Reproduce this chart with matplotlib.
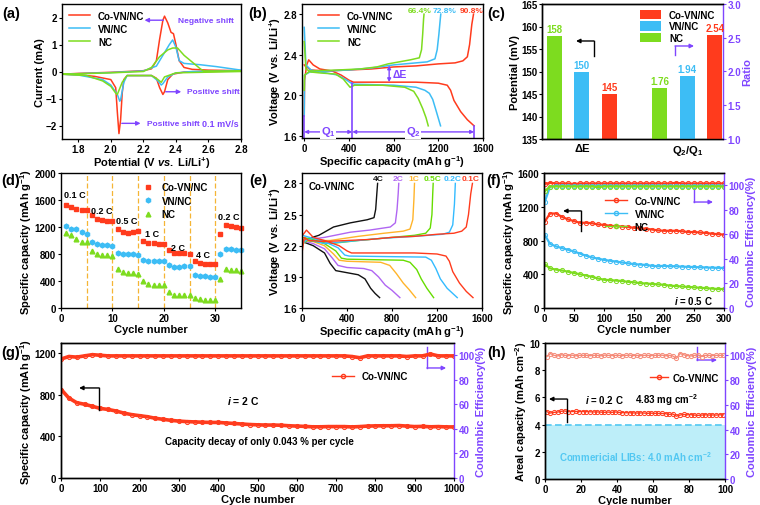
import matplotlib
matplotlib.use("Agg")
import matplotlib.pyplot as plt
from matplotlib.lines import Line2D

# ---------------- data ----------------
names = ["Co-VN/NC", "VN/NC", "NC"]

# (a) CV curves, anodic and cathodic branches
a_red_up_x = [1.7, 1.8, 2.0, 2.1, 2.2, 2.25, 2.28, 2.30, 2.32, 2.33, 2.35, 2.37, 2.385, 2.40, 2.42, 2.45, 2.5, 2.6, 2.8]
a_red_up_y = [-0.1, -0.07, -0.03, 0.0, 0.03, 0.1, 0.4, 1.2, 1.9, 2.05, 1.8, 1.45, 1.4, 1.0, 0.4, 0.15, 0.08, 0.05, 0.03]
a_red_dn_x = [2.8, 2.6, 2.45, 2.38, 2.35, 2.33, 2.32, 2.30, 2.28, 2.25, 2.2, 2.1, 2.08, 2.07, 2.06, 2.05, 2.04, 2.03, 2.0, 1.9, 1.8, 1.7]
a_red_dn_y = [0.02, 0.0, -0.02, -0.1, -0.3, -0.75, -0.85, -0.6, -0.25, -0.15, -0.15, -0.15, -0.3, -0.8, -1.8, -2.3, -1.5, -0.6, -0.3, -0.18, -0.12, -0.1]
a_blue_up_x = [1.7, 2.0, 2.2, 2.28, 2.32, 2.36, 2.38, 2.40, 2.42, 2.45, 2.55, 2.65, 2.8]
a_blue_up_y = [-0.1, -0.04, 0.02, 0.2, 0.6, 1.0, 1.17, 0.9, 0.4, 0.3, 0.25, 0.18, 0.05]
a_blue_dn_x = [2.8, 2.5, 2.4, 2.35, 2.32, 2.31, 2.29, 2.25, 2.1, 2.08, 2.06, 2.055, 2.04, 2.0, 1.95, 1.8, 1.7]
a_blue_dn_y = [0.03, 0.0, -0.05, -0.2, -0.45, -0.5, -0.35, -0.15, -0.15, -0.4, -1.05, -1.1, -0.85, -0.5, -0.3, -0.13, -0.1]
a_green_up_x = [1.7, 2.0, 2.2, 2.25, 2.3, 2.35, 2.38, 2.41, 2.45, 2.5, 2.55, 2.57, 2.8]
a_green_up_y = [-0.1, -0.05, 0.0, 0.15, 0.55, 0.8, 0.87, 0.87, 0.6, 0.35, 0.1, 0.02, 0.02]
a_green_dn_x = [2.8, 2.4, 2.33, 2.31, 2.29, 2.25, 2.1, 2.07, 2.04, 2.03, 2.0, 1.95, 1.85, 1.7]
a_green_dn_y = [0.0, -0.05, -0.2, -0.4, -0.3, -0.15, -0.15, -0.4, -0.85, -0.8, -0.55, -0.35, -0.15, -0.1]

# (b) discharge / charge profiles at 0.1 C
b_red_dis_x = [0, 15, 40, 80, 140, 250, 330, 400, 440, 600, 800, 1000, 1200, 1280, 1310, 1340, 1400, 1460, 1520]
b_red_dis_y = [2.30, 2.28, 2.35, 2.30, 2.26, 2.24, 2.20, 2.15, 2.13, 2.13, 2.13, 2.13, 2.12, 2.10, 2.05, 1.95, 1.84, 1.76, 1.70]
b_red_chg_x = [0, 3, 20, 60, 200, 400, 600, 800, 1000, 1200, 1350, 1420, 1460, 1480, 1500, 1515]
b_red_chg_y = [1.80, 2.15, 2.28, 2.25, 2.24, 2.25, 2.26, 2.28, 2.29, 2.31, 2.32, 2.34, 2.38, 2.50, 2.70, 2.80]
b_blue_dis_x = [0, 15, 60, 150, 300, 380, 420, 450, 800, 1000, 1080, 1120, 1150, 1180, 1220]
b_blue_dis_y = [2.67, 2.30, 2.25, 2.23, 2.20, 2.15, 2.12, 2.11, 2.10, 2.08, 2.05, 2.02, 1.96, 1.85, 1.70]
b_blue_chg_x = [0, 3, 50, 200, 400, 600, 800, 1000, 1100, 1170, 1190, 1205, 1215, 1222]
b_blue_chg_y = [1.80, 2.20, 2.23, 2.24, 2.25, 2.27, 2.30, 2.32, 2.33, 2.36, 2.45, 2.60, 2.72, 2.80]
b_green_dis_x = [0, 15, 60, 150, 280, 350, 410, 450, 700, 900, 980, 1020, 1060, 1090, 1110]
b_green_dis_y = [2.53, 2.26, 2.23, 2.22, 2.21, 2.16, 2.08, 2.10, 2.10, 2.08, 2.04, 1.97, 1.87, 1.78, 1.70]
b_green_chg_x = [0, 3, 50, 300, 500, 650, 750, 850, 950, 1030, 1050, 1060, 1068, 1072]
b_green_chg_y = [2.05, 2.20, 2.24, 2.25, 2.26, 2.28, 2.31, 2.33, 2.35, 2.37, 2.45, 2.60, 2.75, 2.80]
b_ratio_text = ["90.8%", "72.8%", "66.4%"]
b_ratio_x = [1495, 1255, 1030]
q1_end, q2_end = 430, 1520

# (c) voltage gap and capacity ratio
c_dE = [145, 150, 158]          # Co-VN/NC, VN/NC, NC
c_ratio = [2.54, 1.94, 1.76]

# (d) rate capability, cycles 1..35
d_cycle = list(range(1, 36))
d_red = [1520, 1490, 1460, 1450, 1445, 1375, 1320, 1300, 1290, 1285, 1170, 1120, 1110, 1130, 1140,
         1000, 965, 960, 955, 950, 865, 820, 815, 810, 805, 690, 660, 650, 650, 650, 1100, 1230, 1210, 1200, 1180]
d_blue = [1215, 1175, 1165, 1130, 1100, 985, 955, 940, 930, 925, 820, 795, 795, 795, 790,
          715, 700, 695, 695, 690, 630, 610, 612, 615, 620, 495, 480, 470, 465, 455, 800, 875, 870, 865, 855]
d_green = [1110, 1080, 1020, 985, 975, 845, 805, 790, 780, 770, 575, 530, 520, 515, 510,
           395, 355, 345, 340, 335, 235, 200, 195, 195, 195, 150, 130, 125, 125, 120, 435, 585, 570, 560, 545]
d_rates = ["0.1 C", "0.2 C", "0.5 C", "1 C", "2 C", "4 C", "0.2 C"]
d_rate_x = [2.6, 8.0, 12.8, 17.7, 22.8, 27.6, 32.7]
d_rate_y = [1680, 1440, 1290, 1100, 890, 800, 1360]

# (e) Co-VN/NC profiles at different rates
e_rates = ["4C", "2C", "1C", "0.5C", "0.2C", "0.1C"]
e_dis_x = [[0, 3, 100, 200, 250, 300, 400, 500, 560, 610, 650, 690],
           [0, 3, 100, 200, 270, 320, 400, 550, 620, 680, 740, 800, 870],
           [0, 3, 100, 200, 280, 330, 400, 700, 780, 840, 900, 950, 1010],
           [0, 3, 100, 200, 300, 350, 400, 900, 960, 1020, 1060, 1110, 1170],
           [0, 3, 100, 200, 320, 380, 420, 1100, 1150, 1190, 1230, 1290, 1380],
           [0, 5, 40, 100, 200, 330, 400, 440, 1000, 1200, 1280, 1310, 1340, 1400, 1460, 1520]]
e_dis_y = [[2.80, 2.24, 2.20, 2.13, 2.03, 1.96, 1.94, 1.92, 1.88, 1.79, 1.74, 1.70],
           [2.70, 2.25, 2.22, 2.17, 2.08, 2.01, 1.99, 1.98, 1.96, 1.90, 1.82, 1.77, 1.70],
           [2.60, 2.26, 2.24, 2.20, 2.12, 2.06, 2.05, 2.04, 2.01, 1.93, 1.84, 1.78, 1.70],
           [2.55, 2.28, 2.26, 2.22, 2.15, 2.08, 2.07, 2.06, 2.04, 1.97, 1.88, 1.79, 1.70],
           [2.50, 2.30, 2.27, 2.24, 2.18, 2.11, 2.10, 2.09, 2.06, 1.98, 1.88, 1.79, 1.70],
           [2.30, 2.30, 2.35, 2.28, 2.25, 2.20, 2.15, 2.13, 2.13, 2.12, 2.10, 2.05, 1.95, 1.84, 1.76, 1.70]]
e_chg_x = [[0, 3, 30, 150, 280, 430, 580, 640, 655, 665, 672],
           [0, 3, 50, 200, 430, 600, 785, 830, 845, 855, 860],
           [0, 3, 50, 250, 500, 730, 900, 960, 985, 995, 1000],
           [0, 3, 50, 250, 500, 800, 1000, 1100, 1140, 1155, 1162, 1166],
           [0, 3, 50, 200, 400, 700, 1000, 1250, 1310, 1340, 1355, 1363],
           [0, 3, 20, 60, 200, 400, 600, 800, 1000, 1200, 1350, 1420, 1460, 1480, 1500, 1515]]
e_chg_y = [[1.80, 2.22, 2.26, 2.30, 2.38, 2.42, 2.45, 2.47, 2.55, 2.70, 2.80],
           [1.80, 2.23, 2.26, 2.28, 2.33, 2.35, 2.38, 2.42, 2.55, 2.70, 2.80],
           [1.80, 2.22, 2.25, 2.25, 2.29, 2.32, 2.34, 2.36, 2.45, 2.65, 2.80],
           [1.80, 2.22, 2.25, 2.22, 2.25, 2.28, 2.30, 2.32, 2.37, 2.50, 2.70, 2.80],
           [1.80, 2.22, 2.26, 2.22, 2.24, 2.27, 2.29, 2.31, 2.33, 2.40, 2.60, 2.80],
           [1.80, 2.15, 2.28, 2.25, 2.24, 2.25, 2.26, 2.28, 2.29, 2.31, 2.32, 2.34, 2.38, 2.50, 2.70, 2.80]]
e_label_x = [679, 857, 995, 1162, 1337, 1502]

# (f) cycling at 0.5 C
f_cycle = [1, 10, 20, 30, 40, 50, 60, 70, 80, 90, 100, 110, 120, 130, 140, 150, 160, 170, 180, 190,
           200, 210, 220, 230, 240, 250, 260, 270, 280, 290, 300]
f_red = [1020, 1120, 1120, 1080, 1050, 1030, 1010, 1010, 1005, 990, 985, 975, 970, 965, 960, 950,
         945, 940, 930, 920, 915, 915, 915, 910, 900, 900, 895, 890, 880, 875, 870]
f_blue = [870, 760, 730, 710, 690, 670, 645, 620, 600, 585, 570, 560, 550, 540, 530, 520,
          515, 510, 500, 495, 500, 495, 495, 490, 488, 485, 483, 480, 478, 476, 475]
f_green = [520, 470, 455, 445, 430, 415, 400, 385, 370, 350, 335, 330, 325, 320, 310, 305,
           295, 290, 285, 280, 275, 265, 260, 255, 250, 245, 240, 235, 230, 225, 225]
f_ce_red = [101, 102, 101.5, 101.5, 101.5, 101, 101.5, 101.5, 101.5, 101.5, 101.5, 101.5, 101.5, 101.5, 101.5, 101.5,
            101.5, 101.5, 101.5, 101.5, 101.5, 101.5, 102, 101.5, 101.5, 101.5, 101.5, 101.5, 101.5, 101.5, 101.5]
f_ce_blue = [86, 99, 99.5, 99.5, 99.5, 99.5, 99.5, 99.5, 99.5, 99.5, 99.5, 99.5, 99.5, 99.5, 99.5, 99.5,
             99.5, 99.5, 99.5, 99.5, 99.5, 99.5, 99.5, 99.5, 99.5, 99.5, 99.5, 99.5, 99.5, 99.5, 99.5]
f_ce_green = [95, 99, 99, 99, 99, 99, 99, 99, 99, 98.5, 99, 99, 99, 99, 99, 99,
              99, 99, 99, 99, 99, 99, 99, 99, 99, 99, 99, 99, 99, 99, 99]

# (g) long cycling at 2 C
g_cycle = [1, 20, 40, 60, 80, 100, 120, 140, 160, 180, 200, 220, 240, 260, 280, 300, 320, 340, 360, 380,
           400, 420, 440, 460, 480, 500, 520, 540, 560, 580, 600, 620, 640, 660, 680, 700, 720, 740, 760, 780,
           800, 820, 840, 860, 880, 900, 920, 940, 960, 980, 1000]
g_cap = [850, 770, 725, 710, 690, 670, 660, 645, 625, 610, 600, 590, 575, 565, 555, 548, 543, 540, 537, 535,
         535, 530, 525, 520, 515, 512, 510, 510, 508, 503, 500, 497, 493, 493, 495, 495, 495, 492, 495, 500,
         502, 503, 503, 505, 500, 495, 497, 493, 495, 492, 492]
g_ce = [97, 99, 98.5, 99.5, 100.5, 100, 99.5, 99.5, 99.5, 99.5, 99.5, 99.5, 99.5, 99.5, 99.5, 99.5, 99.5, 99.5, 99.5, 99.5,
        99.5, 99.5, 99.5, 99.5, 99.5, 99.5, 99.5, 99.5, 99.5, 99.5, 99.5, 99.5, 99.5, 99.5, 99.5, 99.5, 99.5, 99, 98, 99.5,
        99.5, 99.5, 99.5, 99.5, 99, 99.5, 99.5, 101, 99.5, 99.5, 99.5]

# (h) high loading at 0.2 C
h_cycle = [1, 3, 5, 7, 9, 11, 13, 15, 17, 19, 21, 23, 25, 27, 29, 31, 33, 35, 37, 39, 41, 43, 45, 47, 49,
           51, 53, 55, 57, 59, 61, 63, 65, 67, 69, 71, 73, 75, 77, 79, 81, 83, 85, 87, 89, 91, 93, 95, 97, 99]
h_cap = [4.95, 4.85, 4.90, 4.92, 4.98, 5.00, 4.95, 4.96, 4.97, 4.95, 4.96, 4.95, 4.94, 4.93, 4.93, 4.92, 4.90,
         4.92, 4.90, 4.93, 4.90, 4.88, 4.87, 4.87, 4.86, 4.85, 4.86, 4.85, 4.83, 4.84, 4.83, 4.82, 4.82, 4.80,
         4.75, 4.78, 4.62, 4.70, 4.75, 4.72, 4.73, 4.70, 4.68, 4.70, 4.72, 4.70, 4.71, 4.70, 4.72, 4.72]
h_ce = [99.0, 101.5, 100.0, 99.5, 100.5, 100.0, 99.8, 100.2, 99.6, 100.0, 100.0, 100.0, 99.7, 100.0, 100.0,
        99.6, 100.2, 100.0, 99.8, 100.0, 100.0, 99.7, 100.0, 100.2, 99.8, 100.0, 99.7, 100.0, 100.0, 99.8,
        100.0, 100.0, 100.2, 99.6, 100.0, 99.5, 97.5, 101.5, 100.5, 99.8, 99.5, 100.0, 100.3, 99.0, 100.0,
        100.0, 99.8, 100.0, 100.0, 100.0]
h_commercial = 4.0

# ---------------- style ----------------
plt.rcParams.update({
    "font.family": ["Liberation Sans", "DejaVu Sans"],
    "font.weight": "bold",
    "axes.labelweight": "bold",
    "font.size": 7,
    "mathtext.fontset": "custom",
    "mathtext.rm": "Liberation Sans:bold",
    "mathtext.bf": "Liberation Sans:bold",
    "mathtext.it": "Liberation Sans:bold:italic",
    "mathtext.default": "rm",
    "axes.linewidth": 1.0,
    "xtick.major.size": 2.5,
    "ytick.major.size": 2.5,
    "xtick.major.pad": 1,
    "ytick.major.pad": 1,
    "axes.labelpad": 0.5,
    "legend.frameon": False,
})

RED = "#ff3b1d"
BLUE = "#3dbdf5"
GREEN = "#7ddc1f"
PURPLE = "#7f45ff"
DASH = "#f5b535"
e_colors = ["#111111", "#b066f2", "#ffb42a", "#66dd00", "#33bbff", RED]
LAB = 8

W, H = 760, 506
fig = plt.figure(figsize=(W / 100, H / 100), dpi=100)


def box(l, t, r, b):
    return [l / W, 1 - b / H, (r - l) / W, (b - t) / H]


def letter(s, x, y):
    fig.text(x / W, 1 - y / H, s, fontsize=10.5, fontweight="bold", va="center", ha="left")


def elbow(ax, p0, p1, p2, color):
    ax.plot([p0[0], p1[0]], [p0[1], p1[1]], color=color, lw=1, transform=ax.transAxes, clip_on=False)
    ax.annotate("", xy=p2, xytext=p1, xycoords="axes fraction",
                arrowprops=dict(arrowstyle="-|>", color=color, lw=1, mutation_scale=6, shrinkA=0, shrinkB=0))


def purple_twin(ax, label):
    ax2 = ax.twinx()
    ax2.set_ylim(0, 110)
    ax2.set_yticks([0, 20, 40, 60, 80, 100])
    ax2.tick_params(axis="y", colors=PURPLE)
    ax2.spines["right"].set_color(PURPLE)
    ax.spines["right"].set_visible(False)
    ax2.set_ylabel(label, color=PURPLE, fontsize=LAB)
    return ax2


# ---------------- (a) ----------------
ax = fig.add_axes(box(62, 5, 241, 140))
for xs, ys, xd, yd, c, n in [(a_red_up_x, a_red_up_y, a_red_dn_x, a_red_dn_y, RED, names[0]),
                             (a_blue_up_x, a_blue_up_y, a_blue_dn_x, a_blue_dn_y, BLUE, names[1]),
                             (a_green_up_x, a_green_up_y, a_green_dn_x, a_green_dn_y, GREEN, names[2])]:
    ax.plot(xs + xd, ys + yd, color=c, lw=1.1, label=n)
ax.set_xlim(1.7, 2.8)
ax.set_ylim(-2.5, 2.5)
ax.set_xticks([1.8, 2.0, 2.2, 2.4, 2.6, 2.8])
ax.set_yticks([-2, -1, 0, 1, 2])
ax.set_xlabel(r"Potential (V $\mathit{vs.}$ Li/Li$^{+}$)", fontsize=LAB)
ax.set_ylabel("Current (mA)", fontsize=LAB)
ax.legend(loc="upper left", fontsize=7, handlelength=2.2, labelspacing=0.3, borderaxespad=0.3)
arr = dict(arrowstyle="-|>", color=PURPLE, lw=1, mutation_scale=6)
ax.annotate("", xy=(2.19, 1.9), xytext=(2.34, 1.9), arrowprops=arr)
ax.text(2.41, 1.9, "Negative shift", color=PURPLE, fontsize=6, va="center")
ax.annotate("", xy=(2.45, -0.75), xytext=(2.32, -0.75), arrowprops=arr)
ax.text(2.47, -0.75, "Positive shift", color=PURPLE, fontsize=6, va="center")
ax.annotate("", xy=(2.2, -1.92), xytext=(2.05, -1.92), arrowprops=arr)
ax.text(2.22, -1.92, "Positive shift", color=PURPLE, fontsize=6, va="center")
ax.text(2.56, -1.92, "0.1 mV/s", color=PURPLE, fontsize=6.5, va="center")
letter("(a)", 2, 14)

# ---------------- (b) ----------------
ax = fig.add_axes(box(302, 5, 483, 139))
for xd, yd, xc, yc, c, n in [(b_red_dis_x, b_red_dis_y, b_red_chg_x, b_red_chg_y, RED, names[0]),
                             (b_blue_dis_x, b_blue_dis_y, b_blue_chg_x, b_blue_chg_y, BLUE, names[1]),
                             (b_green_dis_x, b_green_dis_y, b_green_chg_x, b_green_chg_y, GREEN, names[2])]:
    ax.plot(xd, yd, color=c, lw=1.1, label=n)
    ax.plot(xc, yc, color=c, lw=1.1)
for t, xx, c in zip(b_ratio_text, b_ratio_x, [RED, BLUE, GREEN]):
    ax.text(xx, 2.835, t, color=c, fontsize=6, ha="center", va="center")
ax.set_xlim(-20, 1600)
ax.set_ylim(1.58, 2.9)
ax.set_xticks([0, 400, 800, 1200, 1600])
ax.set_yticks([1.6, 2.0, 2.4, 2.8])
ax.set_xlabel(r"Specific capacity (mAh g$^{-1}$)", fontsize=LAB)
ax.set_ylabel(r"Voltage (V vs. Li/Li$^{+}$)", fontsize=LAB)
ax.legend(loc="upper left", fontsize=7, handlelength=2.2, labelspacing=0.3, borderaxespad=0.3, bbox_to_anchor=(0.05, 1))
dbl = dict(arrowstyle="<|-|>", color=PURPLE, lw=1, mutation_scale=5, shrinkA=0, shrinkB=0)
ax.plot([0, 0], [1.58, 1.8], color=PURPLE, lw=1.2)
ax.plot([q1_end, q1_end], [1.58, 2.12], color=PURPLE, lw=1.2)
ax.plot([q2_end, q2_end], [1.58, 1.7], color=PURPLE, lw=1.2)
ax.annotate("", xy=(0, 1.64), xytext=(q1_end, 1.64), arrowprops=dbl)
ax.annotate("", xy=(q1_end, 1.64), xytext=(q2_end, 1.64), arrowprops=dbl)
ax.text(215, 1.645, r"Q$_1$", color=PURPLE, fontsize=8, ha="center", va="center",
        bbox=dict(fc="white", ec="none", pad=0.5))
ax.text(975, 1.645, r"Q$_2$", color=PURPLE, fontsize=8, ha="center", va="center",
        bbox=dict(fc="white", ec="none", pad=0.5))
ax.annotate("", xy=(760, 2.13), xytext=(760, 2.295), arrowprops=dbl)
ax.text(790, 2.21, "ΔE", color=PURPLE, fontsize=7.5, va="center")
letter("(b)", 248, 14)

# ---------------- (c) ----------------
ax = fig.add_axes(box(542, 5, 723, 140))
ax2 = ax.twinx()
cols = [RED, BLUE, GREEN]
pos1 = [2.45, 1.45, 0.45]
pos2 = [6.3, 5.3, 4.3]
for i in range(3):
    ax.bar(pos1[i], c_dE[i] - 135, bottom=135, width=0.55, color=cols[i], label=names[i])
    ax.text(pos1[i], c_dE[i] + 0.4, str(c_dE[i]), color=cols[i], fontsize=7, ha="center", va="bottom")
    ax2.bar(pos2[i], c_ratio[i] - 1, bottom=1, width=0.55, color=cols[i])
    ax2.text(pos2[i], c_ratio[i] + 0.03, "%.2f" % c_ratio[i], color=cols[i], fontsize=7, ha="center", va="bottom")
ax.set_xlim(0, 6.6)
ax.set_ylim(135, 165)
ax.set_yticks([135, 140, 145, 150, 155, 160, 165])
ax.set_xticks([1.45, 5.3])
ax.set_xticklabels(["ΔE", r"Q$_2$/Q$_1$"], fontsize=8)
ax.tick_params(axis="x", length=0, pad=3)
ax2.set_ylim(1.0, 3.0)
ax2.set_yticks([1.0, 1.5, 2.0, 2.5, 3.0])
ax2.tick_params(axis="y", colors=PURPLE)
ax2.spines["right"].set_color(PURPLE)
ax.spines["right"].set_visible(False)
ax.set_ylabel("Potential (mV)", fontsize=LAB)
ax2.set_ylabel("Ratio", color=PURPLE, fontsize=LAB)
ax.legend(loc="upper right", fontsize=7, handlelength=2.2, handleheight=1.1, labelspacing=0.15,
          borderaxespad=0.2, bbox_to_anchor=(0.99, 1.0))
elbow(ax, (0.287, 0.615), (0.287, 0.726), (0.188, 0.726), "black")
elbow(ax, (0.735, 0.622), (0.735, 0.689), (0.840, 0.689), PURPLE)
letter("(c)", 487, 14)

# ---------------- (d) ----------------
ax = fig.add_axes(box(61, 174, 241, 309))
for xv in [5, 10, 15, 20, 25, 30]:
    ax.axvline(xv, color=DASH, lw=0.9, ls=(0, (4, 2)))
ax.plot(d_cycle, d_red, "s", color=RED, ms=3.2, label=names[0], clip_on=False)
ax.plot(d_cycle, d_blue, "h", color=BLUE, ms=3.4, label=names[1], clip_on=False)
ax.plot(d_cycle, d_green, "^", color=GREEN, ms=3.4, label=names[2], clip_on=False)
for t, xx, yy in zip(d_rates, d_rate_x, d_rate_y):
    ax.text(xx, yy, t, fontsize=6.5, ha="center", va="center")
ax.set_xlim(0, 35)
ax.set_ylim(0, 2000)
ax.set_xticks([0, 10, 20, 30])
ax.set_yticks([0, 400, 800, 1200, 1600, 2000])
ax.set_xlabel("Cycle number", fontsize=LAB)
ax.set_ylabel(r"Specific capacity (mAh g$^{-1}$)", fontsize=LAB)
ax.legend(loc="upper left", fontsize=7, handlelength=1.2, labelspacing=0.35, borderaxespad=0,
          bbox_to_anchor=(0.43, 0.96))
letter("(d)", 1, 181)

# ---------------- (e) ----------------
ax = fig.add_axes(box(302, 174, 482, 309))
for i in range(6):
    ax.plot(e_dis_x[i], e_dis_y[i], color=e_colors[i], lw=1.0)
    ax.plot(e_chg_x[i], e_chg_y[i], color=e_colors[i], lw=1.0)
    ax.text(e_label_x[i], 2.845, e_rates[i], color=e_colors[i], fontsize=6, ha="center", va="center")
ax.text(56, 2.77, "Co-VN/NC", fontsize=7, va="center")
ax.set_xlim(0, 1600)
ax.set_ylim(1.6, 2.9)
ax.set_xticks([0, 400, 800, 1200, 1600])
ax.set_yticks([1.6, 1.9, 2.2, 2.5, 2.8])
ax.set_xlabel(r"Specific capacity (mAh g$^{-1}$)", fontsize=LAB)
ax.set_ylabel(r"Voltage (V vs. Li/Li$^{+}$)", fontsize=LAB)
letter("(e)", 249, 181)

# ---------------- (f) ----------------
ax = fig.add_axes(box(544, 174, 724, 309))
ax2 = purple_twin(ax, "Coulombic Efficiency(%)")
mk = dict(marker="o", ms=3, mfc="none", mew=0.7, lw=1.6)
ax.plot(f_cycle, f_red, color=RED, label=names[0], **mk)
ax.plot(f_cycle, f_blue, color=BLUE, label=names[1], **mk)
ax.plot(f_cycle, f_green, color=GREEN, label=names[2], **mk)
ax2.plot(f_cycle, f_ce_red, color=RED, **mk)
ax2.plot(f_cycle, f_ce_blue, color=BLUE, **mk)
ax2.plot(f_cycle, f_ce_green, color=GREEN, **mk)
ax.set_xlim(0, 300)
ax.set_ylim(0, 1600)
ax.set_xticks([0, 50, 100, 150, 200, 250, 300])
ax.set_yticks([0, 400, 800, 1200, 1600])
ax.set_xlabel("Cycle number", fontsize=LAB)
ax.set_ylabel(r"Specific capacity (mAh g$^{-1}$)", fontsize=LAB)
ax.legend(handles=[Line2D([], [], color=c, marker="o", ms=3, mfc="none", lw=1) for c in [RED, BLUE, GREEN]],
          labels=names, loc="upper left", fontsize=7, handlelength=2.2, labelspacing=0.3,
          bbox_to_anchor=(0.32, 0.86), borderaxespad=0)
elbow(ax, (0.206, 0.570), (0.206, 0.719), (0.106, 0.719), "black")
elbow(ax, (0.833, 0.889), (0.833, 0.785), (0.939, 0.785), PURPLE)
ax.text(0.94, 0.06, r"$\mathit{i}$ = 0.5 C", transform=ax.transAxes, fontsize=7, ha="right", va="center")
letter("(f)", 486, 181)

# ---------------- (g) ----------------
ax = fig.add_axes(box(61, 344, 454, 479))
ax2 = purple_twin(ax, "Coulombic Efficiency(%)")
mk = dict(marker="o", ms=3, mfc="none", mew=0.7, lw=2.6)
ax.plot(g_cycle, g_cap, color=RED, label=names[0], **mk)
ax2.plot(g_cycle, g_ce, color=RED, **mk)
ax.set_xlim(0, 1000)
ax.set_ylim(0, 1300)
ax.set_xticks(range(0, 1001, 100))
ax.set_yticks([0, 400, 800, 1200])
ax.set_xlabel("Cycle number", fontsize=LAB)
ax.set_ylabel(r"Specific capacity (mAh g$^{-1}$)", fontsize=LAB)
ax.legend(handles=[Line2D([], [], color=RED, marker="o", ms=3, mfc="none", lw=1)], labels=[names[0]],
          loc="center left", bbox_to_anchor=(0.68, 0.755), fontsize=7, handlelength=2.2, borderaxespad=0)
ax.text(463, 755, r"$\mathit{i}$ = 2 C", fontsize=7.5, ha="center", va="center")
ax.text(504, 358, "Capacity decay of only 0.043 % per cycle", fontsize=7, ha="center", va="center")
elbow(ax, (0.097, 0.504), (0.097, 0.667), (0.046, 0.667), "black")
elbow(ax, (0.931, 0.970), (0.931, 0.815), (0.980, 0.815), PURPLE)
letter("(g)", 1, 353)

# ---------------- (h) ----------------
ax = fig.add_axes(box(545, 344, 725, 480))
ax2 = purple_twin(ax, "Coulombic Efficiency(%)")
ax.axhspan(0, h_commercial, color="#bdeef9", lw=0)
ax.axhline(h_commercial, color="#52c8f2", lw=1.2, ls=(0, (4, 2)))
ax.plot(h_cycle, h_cap, color=RED, marker="o", ms=3, mfc="none", mew=0.7, lw=1.0)
ax2.plot(h_cycle, h_ce, color="#f58a78", marker="o", ms=3, mfc="none", mew=0.7, lw=1.0)
ax.set_xlim(0, 100)
ax.set_ylim(0, 10)
ax.set_xticks(range(0, 101, 20))
ax.set_yticks(range(0, 11, 2))
ax.set_xlabel("Cycle number", fontsize=LAB)
ax.set_ylabel(r"Areal capacity (mAh cm$^{-2}$)", fontsize=LAB)
ax.legend(handles=[Line2D([], [], color=RED, marker="o", ms=3, mfc="none", lw=1)], labels=[names[0]],
          loc="center left", bbox_to_anchor=(0.56, 0.745), fontsize=7, handlelength=1.9, handletextpad=0.5,
          borderaxespad=0)
ax.text(22, 5.85, r"$\mathit{i}$ = 0.2 C", fontsize=7, va="center")
ax.text(50, 5.85, r"4.83 mg cm$^{-2}$", fontsize=7, va="center")
ax.text(50, 1.7, r"Commericial LIBs: 4.0 mAh cm$^{-2}$", color="#52c8f2", fontsize=7, ha="center", va="center")
elbow(ax, (0.122, 0.419), (0.122, 0.588), (0.022, 0.588), "black")
elbow(ax, (0.844, 0.971), (0.844, 0.875), (0.956, 0.875), PURPLE)
letter("(h)", 487, 353)

fig.savefig("out.png", dpi=100)
